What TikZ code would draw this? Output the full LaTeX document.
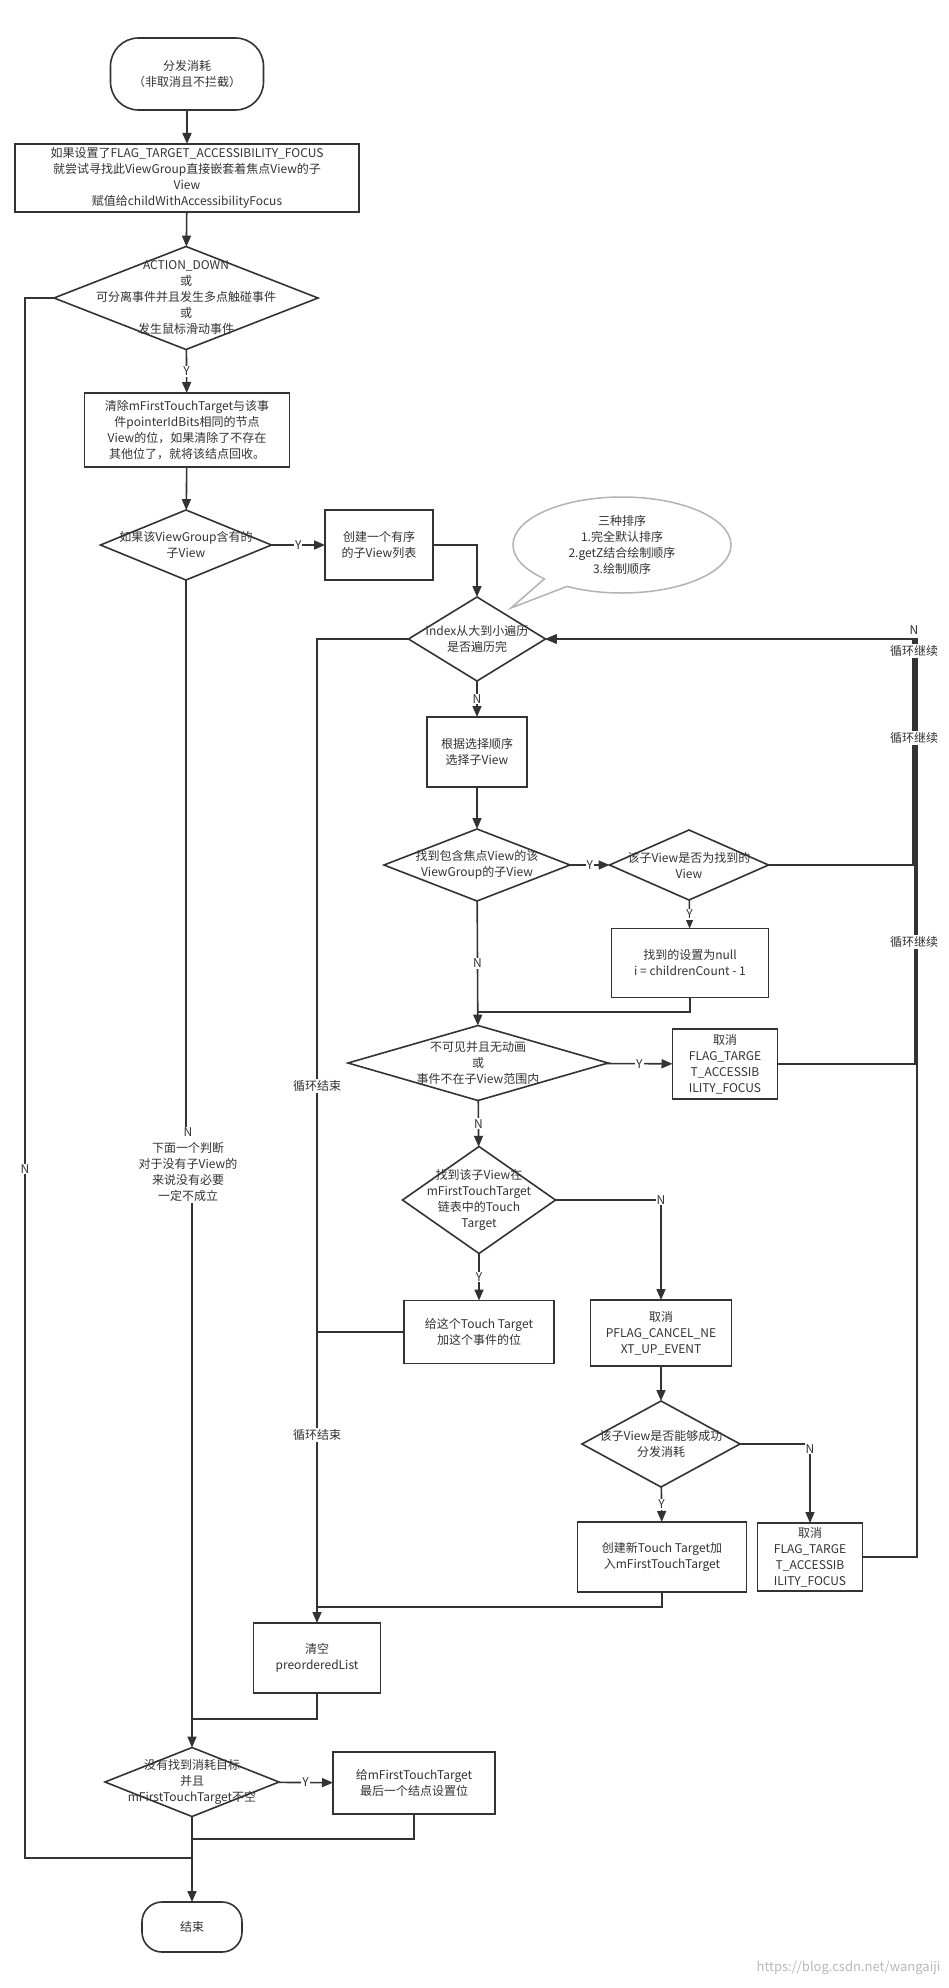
\documentclass[tikz,border=0pt]{standalone}
\usepackage{fontspec}
\setmainfont{Noto Sans CJK SC}
\usetikzlibrary{shapes.geometric,shapes.callouts,arrows.meta}
\definecolor{ln}{HTML}{333333}
\definecolor{cl}{HTML}{B3B3B3}
\begin{document}
\begin{tikzpicture}[x=1pt,y=-1pt,
  font=\fontsize{12}{16}\selectfont, text=ln,
  line/.style={draw=ln, line width=1.6pt},
  arr/.style={line, -{Triangle[length=11pt,width=9pt]}},
  box/.style={draw=ln, line width=1.6pt, rectangle, inner sep=0pt, outer sep=0pt, align=center, fill=white},
  term/.style={box, rounded corners=#1},
  dia/.style={draw=ln, line width=1.6pt, diamond, inner sep=0pt, outer sep=0pt, fill=white},
  txt/.style={align=center, inner sep=0pt, text=ln},
  lab/.style={fill=white, inner sep=1pt, align=center, text=ln}
]
\useasboundingbox (0,0) rectangle (948,1988);
\fill[white] (0,0) rectangle (948,1988);

% ---------- nodes ----------
\node[term=28pt, minimum width=153pt, minimum height=72pt] (start) at (187,74) {分发消耗\\（非取消且不拦截）};
\node[box, minimum width=344pt, minimum height=68pt] (b1) at (187,178) {如果设置了FLAG\_TARGET\_ACCESSIBILITY\_FOCUS\\就尝试寻找此ViewGroup直接嵌套着焦点View的子\\View\\赋值给childWithAccessibilityFocus};
\node[dia, minimum width=264pt, minimum height=103pt, label={[txt]center:{ACTION\_DOWN\\或\\可分离事件并且发生多点触碰事件\\或\\发生鼠标滑动事件}}] (d1) at (186,298) {};
\node[box, minimum width=205pt, minimum height=74pt] (b2) at (187,430) {清除mFirstTouchTarget与该事\\件pointerIdBits相同的节点\\View的位，如果清除了不存在\\其他位了，就将该结点回收。};
\node[dia, minimum width=171pt, minimum height=70pt, label={[txt]center:{如果该ViewGroup含有的\\子View}}] (d2) at (186,545) {};
\node[box, minimum width=108pt, minimum height=70pt] (b3) at (379,545) {创建一个有序\\的子View列表};
\node[ellipse callout, draw=cl, line width=1.5pt, fill=white, minimum width=218pt, minimum height=96pt, inner sep=0pt, callout absolute pointer={(511,608)}, align=center] (note) at (622,545) {三种排序\\1.完全默认排序\\2.getZ结合绘制顺序\\3.绘制顺序};
\node[dia, minimum width=137pt, minimum height=84pt, label={[txt]center:{index从大到小遍历\\是否遍历完}}] (d3) at (477,639) {};
\node[box, minimum width=100pt, minimum height=70pt] (sel) at (477,752) {根据选择顺序\\选择子View};
\node[dia, minimum width=186pt, minimum height=72pt, label={[txt]center:{找到包含焦点View的该\\ViewGroup的子View}}] (d4) at (477,865) {};
\node[dia, minimum width=159pt, minimum height=70pt, label={[txt]center:{该子View是否为找到的\\View}}] (d5) at (689,865) {};
\node[box, minimum width=157pt, minimum height=69pt] (nul) at (690,963) {找到的设置为null\\i = childrenCount - 1};
\node[dia, minimum width=260pt, minimum height=75pt, label={[txt]center:{不可见并且无动画\\或\\事件不在子View范围内}}] (d6) at (478,1063) {};
\node[box, minimum width=105pt, minimum height=70pt] (f1) at (725,1064) {取消\\FLAG\_TARGE\\T\_ACCESSIB\\ILITY\_FOCUS};
\node[dia, minimum width=153pt, minimum height=107pt, label={[txt]center:{找到该子View在\\mFirstTouchTarget\\链表中的Touch\\Target}}] (d7) at (479,1200) {};
\node[box, minimum width=150pt, minimum height=63pt] (tt) at (479,1332) {给这个Touch Target\\加这个事件的位};
\node[box, minimum width=141pt, minimum height=66pt] (pf) at (661,1333) {取消\\PFLAG\_CANCEL\_NE\\XT\_UP\_EVENT};
\node[dia, minimum width=158pt, minimum height=86pt, label={[txt]center:{该子View是否能够成功\\分发消耗}}] (d8) at (661,1444) {};
\node[box, minimum width=169pt, minimum height=70pt] (cn) at (662,1557) {创建新Touch Target加\\入mFirstTouchTarget};
\node[box, minimum width=105pt, minimum height=68pt] (f2) at (810,1557) {取消\\FLAG\_TARGE\\T\_ACCESSIB\\ILITY\_FOCUS};
\node[box, minimum width=127pt, minimum height=70pt] (clr) at (317,1658) {清空\\preorderedList};
\node[dia, minimum width=174pt, minimum height=69pt, label={[txt]center:{没有找到消耗目标\\并且\\mFirstTouchTarget不空}}] (d9) at (192,1782) {};
\node[box, minimum width=162pt, minimum height=62pt] (lt) at (414,1783) {给mFirstTouchTarget\\最后一个结点设置位};
\node[term=20pt, minimum width=100pt, minimum height=50pt] (end) at (192,1927) {结束};

% ---------- helper coordinates ----------
\coordinate (r1) at (913,639);
\coordinate (r2) at (915,639);
\coordinate (r3) at (917,639);
\coordinate (m1) at (477,1012);
\coordinate (m2) at (317,1332);
\coordinate (m3) at (317,1607);
\coordinate (m4) at (192,1719);
\coordinate (m5) at (192,1839);
\coordinate (lf) at (25,1858);
\coordinate (m7) at (192,1858);
\coordinate (j1) at (186,1165);
\coordinate (j2) at (192,1165);

% ---------- connectors ----------
\draw[arr] (start) -- (b1);
\draw[arr] (b1) -- (d1);
\draw[arr] (d1) -- node[lab]{Y} (b2);
\draw[arr] (b2) -- (d2);
\draw[arr] (d2) -- node[lab]{Y} (b3);
\draw[arr] (b3.east) -| (d3.north);
\draw[arr] (d3) -- node[lab]{N} (sel);
\draw[arr] (sel) -- (d4);
\draw[arr] (d4) -- node[lab]{Y} (d5);
\draw[arr] (d5) -- node[lab]{Y} (nul);
\draw[arr] (d5.east) -| (r1) -- (d3.east);
\draw[arr] (d4) -- node[lab]{N} (d6);
\draw[line] (nul.south) |- (m1);
\draw[arr] (d6) -- node[lab]{Y} (f1);
\draw[arr] (f1.east) -| (r2) -- (d3.east);
\draw[arr] (d6) -- node[lab]{N} (d7);
\draw[arr] (d7.east) -| node[lab]{N} (pf.north);
\draw[arr] (d7) -- node[lab]{Y} (tt);
\draw[line] (tt.west) -- (m2);
\draw[arr] (pf) -- (d8);
\draw[arr] (d8.east) -| node[lab, pos=0.53]{N} (f2.north);
\draw[arr] (d8) -- node[lab]{Y} (cn);
\draw[arr] (f2.east) -| (r3) -- (d3.east);
\draw[line] (cn.south) |- (m3);
\draw[arr] (d3.west) -| (clr.north);
\draw[line] (clr.south) |- (m4);
\draw[arr] (d2.south) -- (j1) -- (j2) -- (d9.north);
\draw[arr] (d9) -- node[lab]{Y} (lt);
\draw[line] (lt.south) |- (m5);
\draw[line] (d1.west) -| (lf) -- (m7);
\draw[arr] (d9) -- (end);

% ---------- connector labels ----------
\node[lab] (lbA) at (317,1086) {循环结束};
\node[lab] (lbB) at (317,1435) {循环结束};
\node[lab] (lbC) at (25,1169) {N};
\node[lab] (lbD) at (188,1165) {N\\下面一个判断\\对于没有子View的\\来说没有必要\\一定不成立};
\node[txt] (lbE) at (914,630) {N};
\node[lab] (lbF) at (914,651) {循环继续};
\node[lab] (lbG) at (914,738) {循环继续};
\node[lab] (lbH) at (914,942) {循环继续};

\node[text=gray!55, font=\fontsize{13}{13}\selectfont, anchor=east] (wm) at (944,1968) {https://blog.csdn.net/wangaiji};
\end{tikzpicture}
\end{document}
